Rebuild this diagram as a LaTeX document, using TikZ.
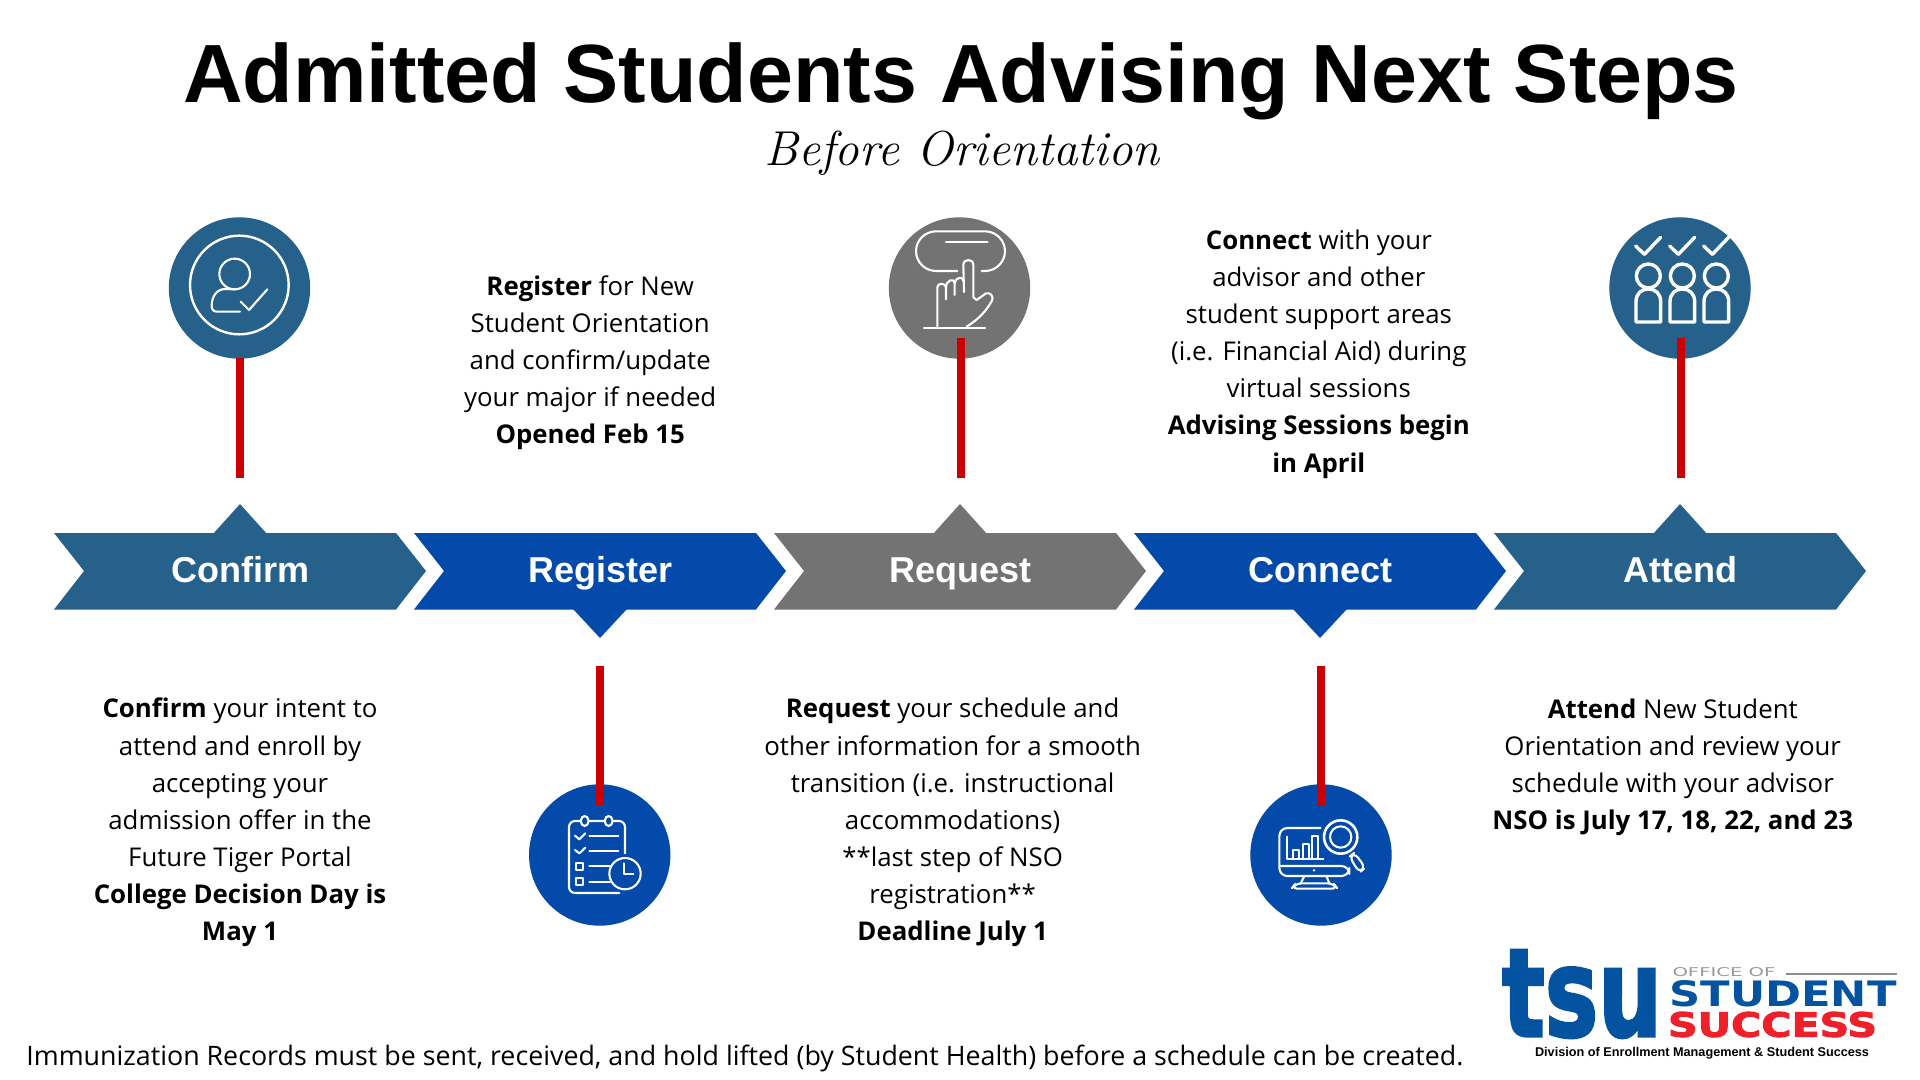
\documentclass[tikz,border=0pt]{standalone}
\usepackage{fontspec}
\usepackage{graphicx}
\setmainfont{Open Sans}
\newfontfamily\headfont{Liberation Sans}
\newfontfamily\handfont{Latin Modern Roman}
\newfontfamily\logofont[FakeBold=2.5]{DejaVu Sans}
\newfontfamily\logowide{DejaVu Sans}
\definecolor{tealblue}{HTML}{26618B}
\definecolor{royalblue}{HTML}{034AAB}
\definecolor{midgray}{HTML}{737373}
\definecolor{stemred}{HTML}{CC0000}
\definecolor{logoblue}{HTML}{0353A0}
\definecolor{logored}{HTML}{EE2029}
\tikzset{
  iconcirc/.style={circle,minimum size=70.7pt,inner sep=0pt},
  stem/.style={stemred,line width=4pt},
  glyph/.style={white,line width=1.05pt,line cap=round,line join=round},
  bodytext/.style={align=center,inner sep=0pt,font=\fontsize{12.9}{18.55}\selectfont},
  steplabel/.style={white,inner sep=0pt,anchor=base,font=\headfont\bfseries\fontsize{18}{20}\selectfont},
  logotext/.style={inner sep=0pt}
}
\begin{document}
\begin{tikzpicture}[x=0.5pt,y=-0.5pt]
  \useasboundingbox (0,0) rectangle (1920,1080);
  \node (title) at (961,81) [inner sep=0pt,font=\headfont\bfseries\fontsize{41.3}{46}\selectfont]{Admitted Students Advising Next Steps};
  \node (subtitle) at (962,153) [inner sep=0pt,font=\handfont\itshape\fontsize{24.5}{30}\selectfont]{Before Orientation};
  % arrows of the timeline
  \foreach \name/\lab/\xs/\col/\dir in {confirm/Confirm/54/tealblue/-1,register/Register/414/royalblue/1,request/Request/774/midgray/-1,connect/Connect/1134/royalblue/1,attend/Attend/1494/tealblue/-1}{
    \fill [\col](\xs,533)--(\xs+342,533)--(\xs+372,571)--(\xs+342,609.5)--(\xs,609.5)--(\xs+30,571)--cycle;
    \ifnum\dir<0
      \fill [\col](\xs+159,534)--(\xs+186,504)--(\xs+213,534)--cycle;
    \else
      \fill [\col](\xs+159,609)--(\xs+186,638)--(\xs+213,609)--cycle;
    \fi
    \node (\name lab) at (\xs+186.5,582) [steplabel]{\lab};
  }
  % stems behind the circles
  \coordinate (confirmtop) at (239.7,358);
  \coordinate (confirmend) at (239.7,478);
  \coordinate (registertop) at (599.7,666);
  \coordinate (registerend) at (599.7,805);
  \coordinate (requesttop) at (960.7,338);
  \coordinate (requestend) at (960.7,478);
  \coordinate (connecttop) at (1321,666);
  \coordinate (connectend) at (1321,805);
  \coordinate (attendtop) at (1681.3,338);
  \coordinate (attendend) at (1681.3,478);
  % circles
  \node (confirmicon) at (239.5,288) [iconcirc,fill=tealblue]{};
  \node (registericon) at (599.7,855) [iconcirc,fill=royalblue]{};
  \node (requesticon) at (959.5,288) [iconcirc,fill=midgray]{};
  \node (connecticon) at (1321,855) [iconcirc,fill=royalblue]{};
  \node (attendicon) at (1680,288) [iconcirc,fill=tealblue]{};
  \draw [stem](confirmtop)--(confirmend);
  \draw [stem](registertop)--(registerend);
  \draw [stem](requesttop)--(requestend);
  \draw [stem](connecttop)--(connectend);
  \draw [stem](attendtop)--(attendend);
  % person with a tick
  \begin{scope}[shift={(130,190)},scale=1/3,glyph]
    \draw [line width=1.2pt](328,285) circle (148);
    \draw (314,252) circle (46);
    \draw (330,365)--(262,365)..controls (250,365) and (245,358)..(245,348)..controls (245,318) and (262,297)..(285,297)--(314,298);
    \draw (332,335)--(357,360)--(412,298);
  \end{scope}
  % finger on a button
  \begin{scope}[shift={(860,190)},scale=1/3,glyph]
    \draw [rounded corners=10pt](292,243)-|(168,124)-|(435,243)--(365,243);
    \draw (258,157)--(383,157);
    \draw (232,410)--(232,292)..controls (232,278) and (256,278)..(258,292)--(258,328);
    \draw (258,292)..controls (258,270) and (284,262)..(284,280)--(284,315);
    \draw (284,280)..controls (284,262) and (310,258)..(310,272);
    \draw (312,306)--(310,225)..controls (310,205) and (340,205)..(340,225)--(340,322)--(350,330)--(378,310)..controls (392,305) and (402,322)..(396,332)..controls (380,360) and (360,385)..(320,410);
    \draw (192,413)--(375,413);
  \end{scope}
  % three people with ticks
  \begin{scope}[shift={(1590,190)},scale=1/3,glyph,line width=1.7pt]
    \foreach \dx in {0,102,204}{
      \draw (137+\dx,168)--(163+\dx,193)--(212+\dx,142);
      \draw (175+\dx,258) circle (36);
      \draw (138+\dx,396)--(138+\dx,335)..controls (138+\dx,310) and (155+\dx,297)..(175+\dx,297)..controls (195+\dx,297) and (212+\dx,310)..(212+\dx,335)--(212+\dx,396)--cycle;
    }
  \end{scope}
  % clipboard with a clock
  \begin{scope}[shift={(500,770)},scale=1/3,glyph]
    \draw [rounded corners=3pt](375,250)--(375,153)--(207,153)--(207,369)--(358,369);
    \foreach \rx in {254,326}{
      \draw [fill=royalblue,rounded corners=2pt](\rx-11,138) rectangle (\rx+11,168);
    }
    \draw (225,197)--(238,208)--(256,190);
    \draw (225,240)--(238,250)--(256,233);
    \draw (268,197)--(355,197);
    \draw (268,243)--(355,243);
    \draw (268,289)--(330,289);
    \draw (268,335)--(330,335);
    \draw (228,279) rectangle (248,299);
    \draw (228,324) rectangle (248,344);
    \draw [fill=royalblue](375,311) circle (47);
    \draw (372,280)--(372,313)--(400,313);
  \end{scope}
  % monitor with a magnifier
  \begin{scope}[shift={(1230,770)},scale=1/3,glyph]
    \draw [rounded corners=4pt](272,174)--(148,174)--(148,318)--(358,318)--(358,288)--(148,288);
    \fill (252,301) circle (4);
    \draw (172,200)--(172,267)--(280,267);
    \draw (190,267)--(190,240)--(208,240)--(208,267);
    \draw (218,267)--(218,222)--(236,222)--(236,267);
    \draw (246,267)--(246,198)--(264,198)--(264,267);
    \draw (222,320)--(212,340);
    \draw (290,320)--(298,340);
    \draw [rounded corners=3pt](197,340)--(310,340)--(323,356)--(184,356)--cycle;
    \draw [line width=1.3pt](332,201) circle (50);
    \draw (332,201) circle (32);
    \draw [rounded corners=3pt](358,260)--(373,248)--(406,293)--(388,308)--cycle;
  \end{scope}
  % texts
  \node (confirmtxt) at (240,822.5) [bodytext]{\textbf{Confirm} your intent to\\attend and enroll by\\accepting your\\admission offer in the\\Future Tiger Portal\\\textbf{College Decision Day is}\\\textbf{May 1}};
  \node (registertxt) at (590.2,363) [bodytext]{\textbf{Register} for New\\Student Orientation\\and confirm/update\\your major if needed\\\textbf{Opened Feb 15}};
  \node (requesttxt) at (952.6,822.5) [bodytext]{\textbf{Request} your schedule and\\other information for a smooth\\transition (i.e. instructional\\accommodations)\\**last step of NSO\\registration**\\\textbf{Deadline July 1}};
  \node (connecttxt) at (1318.8,354) [bodytext]{\textbf{Connect} with your\\advisor and other\\student support areas\\(i.e. Financial Aid) during\\virtual sessions\\\textbf{Advising Sessions begin}\\\textbf{in April}};
  \node (attendtxt) at (1672.7,767.5) [bodytext]{\textbf{Attend} New Student\\Orientation and review your\\schedule with your advisor\\\textbf{NSO is July 17, 18, 22, and 23}};
  \node (footnote) at (26,1058) [anchor=west,inner sep=0pt,font=\fontsize{13.4}{16}\selectfont]{Immunization Records must be sent, received, and hold lifted (by Student Health) before a schedule can be created.};
  % logo
  \node (logotsu) at (1582,994) [logotext,text=logoblue]{\resizebox{80pt}{43pt}{\logofont\bfseries tsu}};
  \node (logooffice) at (1724,972.5) [logotext,text=black!40]{\resizebox{51.5pt}{4.5pt}{\logowide OFFICE OF}};
  \coordinate (rulestart) at (1786,974);
  \coordinate (ruleend) at (1897,974);
  \draw [black!45,line width=0.6pt](rulestart)--(ruleend);
  \node (logostudent) at (1783,994) [logotext,text=logoblue]{\resizebox{113.5pt}{13pt}{\logowide\bfseries STUDENT}};
  \node (logosuccess) at (1772.5,1024.5) [logotext,text=logored]{\resizebox{104.5pt}{12.5pt}{\logofont\bfseries SUCCESS}};
  \node (logodiv) at (1702,1053.5) [logotext]{\resizebox{167pt}{!}{\headfont\bfseries Division of Enrollment Management \& Student Success}};
\end{tikzpicture}
\end{document}
